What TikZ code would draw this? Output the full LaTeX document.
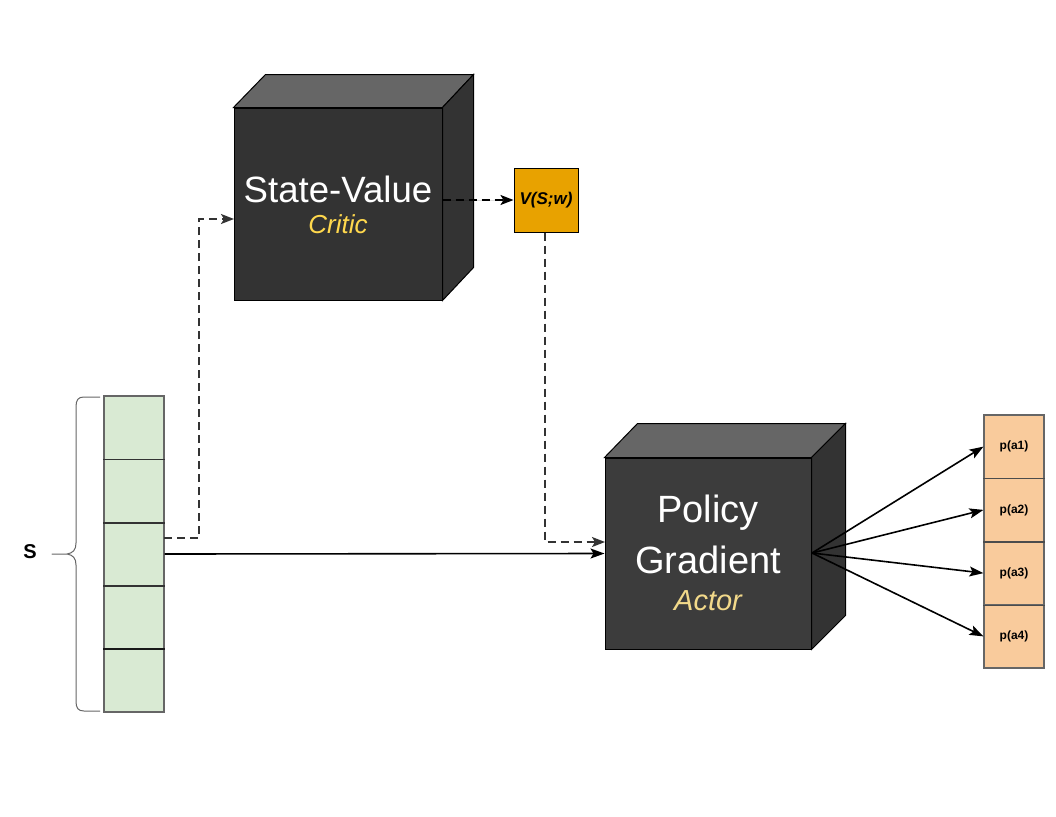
\documentclass[tikz,border=0pt]{standalone}
\usepackage{fontspec}
\setmainfont{Liberation Sans}
\usetikzlibrary{arrows.meta,calc}
\definecolor{cubefront}{HTML}{333333}
\definecolor{cubefrontB}{HTML}{3C3C3C}
\definecolor{cubetop}{HTML}{666666}
\definecolor{cubeside}{HTML}{333333}
\definecolor{criticcol}{HTML}{FFD84D}
\definecolor{actorcol}{HTML}{F2D98A}
\definecolor{vcol}{HTML}{E8A200}
\definecolor{statecol}{HTML}{D9EAD3}
\definecolor{outcol}{HTML}{F9CB9C}
\definecolor{linecol}{HTML}{333333}
\begin{document}
\begin{tikzpicture}[x=1pt,y=-1pt,
  cubeface/.style={draw=black,line width=1pt,minimum width=#1,inner sep=0pt},
  statecell/.style={draw=black!60,line width=1.1pt,fill=statecol,minimum width=60pt,minimum height=63.2pt,inner sep=0pt},
  outcell/.style={draw=black!60,line width=1.1pt,fill=outcol,minimum width=60pt,minimum height=63.25pt,inner sep=0pt,font=\fontsize{12}{14}\selectfont\bfseries},
  divider/.style={draw=black!80,line width=1.4pt},
  dashconn/.style={draw=linecol,line width=1.8pt,dash pattern=on 8pt off 5pt,-{Stealth[length=13pt,width=10pt,inset=3pt]}},
  solidconn/.style={draw=black,line width=1.6pt,-{Stealth[length=14pt,width=10pt,inset=3pt]}},
  bigtext/.style={text=white,inner sep=0pt},
]
\useasboundingbox[fill=white] (0,0) rectangle (1056,816);

% ---- Critic cube ----
\node[cubeface=208pt,minimum height=192pt,fill=cubefront] (cv) at (338,204) {};
\fill[cubetop,draw=black,line width=1pt] (cv.north west) -- ++(32,-33) -- ($(cv.north east)+(31,-33)$) -- (cv.north east) -- cycle;
\fill[cubeside,draw=black,line width=1pt] (cv.north east) -- ++(31,-33) -- ($(cv.south east)+(31,-33)$) -- (cv.south east) -- cycle;
\node[bigtext,font=\fontsize{36.6}{40}\selectfont] (cvt) at (338,189) {State-Value};
\node[text=criticcol,inner sep=0pt,font=\fontsize{26}{30}\selectfont\itshape] (cvc) at (338,224) {Critic};

% ---- V(S;w) ----
\node[draw=black,line width=1pt,fill=vcol,minimum width=64pt,minimum height=64pt,inner sep=0pt,font=\fontsize{17}{20}\selectfont\bfseries\itshape] (v) at (546,200) {V(S;w)};

% ---- Actor cube ----
\node[cubeface=206pt,minimum height=191pt,fill=cubefrontB] (pg) at (708,553.5) {};
\fill[cubetop,draw=black,line width=1pt] (pg.north west) -- ++(33,-34) -- ($(pg.north east)+(34,-34)$) -- (pg.north east) -- cycle;
\fill[cubeside,draw=black,line width=1pt] (pg.north east) -- ++(34,-34) -- ($(pg.south east)+(34,-34)$) -- (pg.south east) -- cycle;
\node[bigtext,font=\fontsize{38}{42}\selectfont] (pgt1) at (708,513) {Policy};
\node[bigtext,font=\fontsize{38}{42}\selectfont] (pgt2) at (708,560) {Gradient};
\node[text=actorcol,inner sep=0pt,font=\fontsize{29}{32}\selectfont\itshape] (pga) at (708,601) {Actor};

% ---- State vector ----
\node[statecell] (c1) at (134,427.6) {};
\node[statecell] (c2) at (134,490.8) {};
\node[statecell] (c3) at (134,554) {};
\node[statecell] (c4) at (134,617.2) {};
\node[statecell] (c5) at (134,680.4) {};
\draw[divider] (c1.south west) -- (c1.south east);
\draw[divider] (c2.south west) -- (c2.south east);
\draw[divider] (c3.south west) -- (c3.south east);
\draw[divider,line width=1.8pt,draw=black!90] (c4.south west) -- (c4.south east);
\draw[black!60,line width=1pt,line join=round]
  (100,397) -- (84,397) .. controls (78,397) and (76,400) .. (76,407)
  -- (76,543) .. controls (76,550) and (73,553) .. (67,554) -- (52,554)
  -- (67,554) .. controls (73,555) and (76,558) .. (76,565)
  -- (76,701) .. controls (76,708) and (78,711) .. (84,711) -- (100,711);
\node[font=\fontsize{20}{22}\selectfont\bfseries,inner sep=0pt] (s) at (30,552) {S};

% ---- Outputs ----
\node[outcell] (o1) at (1014,446.6) {p(a1)};
\node[outcell] (o2) at (1014,509.9) {p(a2)};
\node[outcell] (o3) at (1014,573.1) {p(a3)};
\node[outcell] (o4) at (1014,636.4) {p(a4)};
\draw[divider,draw=black!70] (o1.south west) -- (o1.south east);
\draw[divider,draw=black!70] (o2.south west) -- (o2.south east);
\draw[divider,draw=black!70] (o3.south west) -- (o3.south east);

% ---- Connectors ----
\coordinate (sa) at (164,538);
\coordinate (sb) at (199,538);
\coordinate (sc) at (199,219);
\coordinate (ca) at (234,219);
\draw[dashconn] (sa) -- (sb) -- (sc) -- (ca);
\draw[dashconn,draw=black,fill=black,dash phase=0pt] (cv.east |- v.west) -- (v.west);
\coordinate (vb) at (545,542);
\coordinate (pa) at (605,542);
\draw[dashconn] (v.south -| vb) -- (vb) -- (pa);
\draw[solidconn] (c3.east) -- (pg.west);
\coordinate (po) at (812,553);
\draw[solidconn] (po) -- (o1.west);
\draw[solidconn] (po) -- (o2.west);
\draw[solidconn] (po) -- (o3.west);
\draw[solidconn] (po) -- (o4.west);
\end{tikzpicture}
\end{document}
